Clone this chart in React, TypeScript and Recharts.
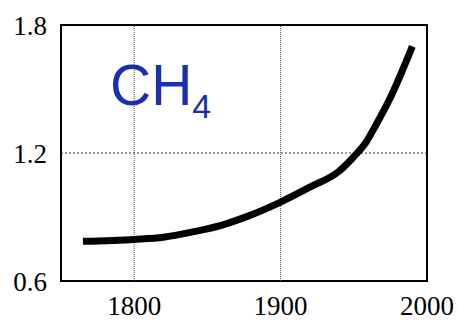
import React from 'react';
import { LineChart, Line, XAxis, YAxis, ReferenceLine, ReferenceArea } from 'recharts';

const years = [1765, 1800, 1820, 1840, 1860, 1875, 1900, 1920, 1940, 1951, 1958, 1965, 1975, 1990];
const ch4 = [0.786, 0.795, 0.805, 0.83, 0.862, 0.897, 0.97, 1.04, 1.115, 1.19, 1.247, 1.33, 1.46, 1.7];
const xTicks = [1800, 1900, 2000];
const yTicks = [0.6, 1.2, 1.8];
const xGrid = [1800, 1900];
const yGrid = [1.2];

const data = years.map((y, i) => ({ year: y, value: ch4[i] }));

const tickStyle = { fontFamily: '"Liberation Serif", "Times New Roman", serif', fontSize: 27, fill: '#000' };

export default function App() {
  return (
    <div style={{ position: 'absolute', left: 0, top: 0, width: 462, height: 323, background: '#fff' }}>
      <LineChart width={462} height={323} data={data} margin={{ top: 25, right: 35, bottom: 0, left: 0 }}>
        <XAxis
          dataKey="year"
          type="number"
          domain={[1750, 2000]}
          ticks={xTicks}
          axisLine={false}
          tickLine={false}
          tickSize={6}
          tickMargin={9}
          height={42}
          tick={tickStyle}
          interval={0}
        />
        <YAxis
          type="number"
          domain={[0.6, 1.8]}
          ticks={yTicks}
          axisLine={false}
          tickLine={false}
          tickSize={6}
          tickMargin={8}
          width={61}
          tick={tickStyle}
          interval={0}
          tickFormatter={(v: number) => v.toFixed(1)}
        />
        {xGrid.map((g) => (
          <ReferenceLine key={'x' + g} x={g} stroke="#555" strokeWidth={1} strokeDasharray="1 1" />
        ))}
        {yGrid.map((g) => (
          <ReferenceLine key={'y' + g} y={g} stroke="#333" strokeWidth={1} strokeDasharray="2 2" />
        ))}
        <ReferenceArea x1={1750} x2={2000} y1={0.6} y2={1.8} fill="none" stroke="#000" strokeWidth={2} ifOverflow="visible" />
        <Line
          type="monotone"
          dataKey="value"
          stroke="#000"
          strokeWidth={7}
          dot={false}
          isAnimationActive={false}
        />
      </LineChart>
      <svg width={462} height={323} style={{ position: 'absolute', left: 0, top: 0, pointerEvents: 'none' }}>
        <text x={110} y={105} fill="#1a2fb0" fontFamily='"Liberation Sans", Arial, sans-serif' fontSize={57}>
          CH<tspan fontSize={34} dy={13}>4</tspan>
        </text>
      </svg>
    </div>
  );
}
